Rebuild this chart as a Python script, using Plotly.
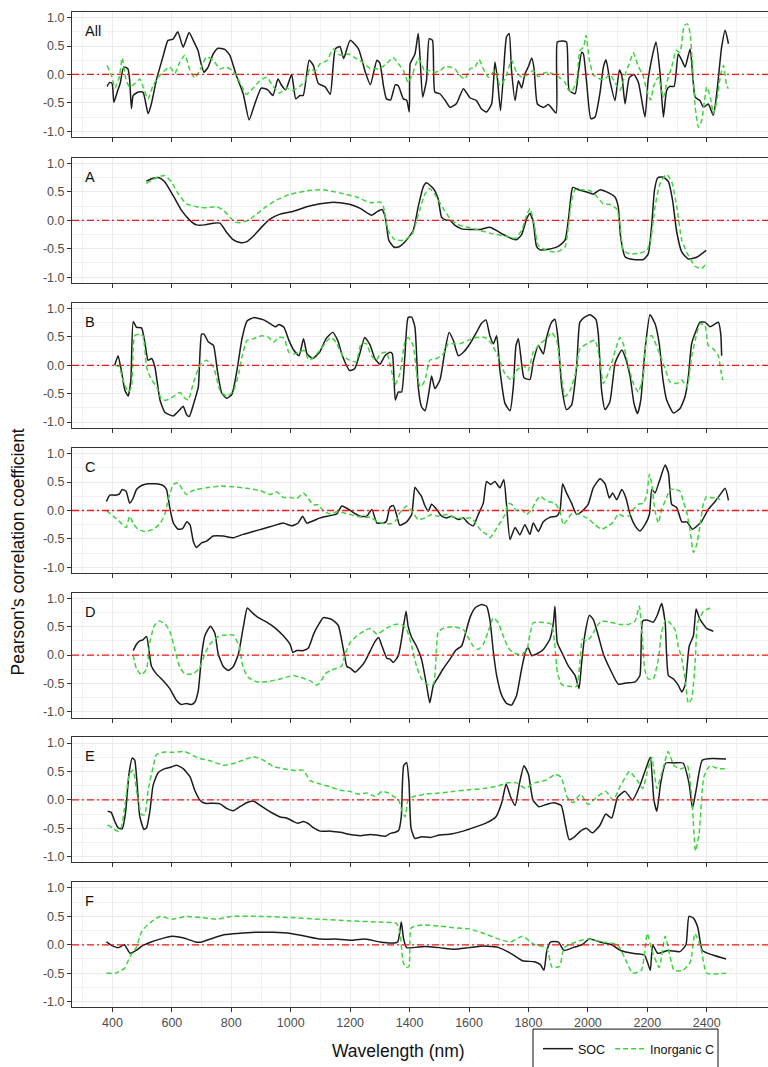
import plotly.graph_objects as go
from plotly.subplots import make_subplots

# ---------------------------------------------------------------
# Pearson's r between reflectance and carbon content, per wavelength
# Each series: (wavelength nm, r)
# ---------------------------------------------------------------
panel_names = ["All", "A", "B", "C", "D", "E", "F"]

soc_all = [(382,-0.21),(391,-0.14),(399,-0.16),(405,-0.49),(418,-0.28),(426,-0.16),(438,0.13),(452,0.1),(458,-0.1),(464,-0.6),(470,-0.37),(487,-0.31),(503,-0.31),(520,-0.69),(531,-0.52),(548,-0.1),(570,0.31),(587,0.6),(604,0.62),(620,0.75),(638,0.48),(658,0.74),(672,0.6),(688,0.42),(697,0.22),(708,0.04),(722,0.13),(739,0.36),(755,0.46),(778,0.44),(795,0.34),(817,-0.02),(840,-0.34),(860,-0.8),(879,-0.52),(901,-0.24),(923,-0.27),(940,-0.37),(957,-0.08),(969,-0.19),(983,-0.27),(1003,0.0),(1017,-0.43),(1031,-0.37),(1042,-0.37),(1062,0.25),(1076,0.16),(1093,-0.16),(1116,-0.22),(1133,-0.35),(1150,0.45),(1166,0.49),(1178,0.28),(1200,0.6),(1228,0.45),(1251,0.04),(1268,-0.18),(1290,0.25),(1300,0.2),(1312,-0.2),(1322,-0.43),(1336,-0.45),(1352,-0.18),(1362,-0.2),(1379,-0.43),(1390,-0.45),(1399,-0.66),(1402,0.19),(1418,0.36),(1429,0.72),(1435,0.31),(1444,-0.4),(1457,-0.1),(1466,0.63),(1477,0.6),(1485,-0.31),(1502,-0.34),(1519,-0.45),(1536,-0.58),(1558,-0.51),(1581,-0.25),(1603,-0.41),(1625,-0.46),(1642,-0.61),(1659,-0.66),(1676,-0.52),(1687,0.22),(1695,-0.05),(1706,-0.64),(1721,0.42),(1726,0.66),(1735,0.72),(1743,0.07),(1755,-0.46),(1766,-0.11),(1777,-0.24),(1788,0.01),(1799,0.13),(1811,0.29),(1819,0.1),(1830,-0.52),(1850,-0.58),(1867,-0.53),(1893,-0.68),(1897,0.57),(1912,0.59),(1928,0.57),(1937,-0.28),(1957,-0.34),(1968,0.04),(1979,0.39),(1985,0.36),(1996,-0.16),(2010,-0.78),(2024,-0.75),(2041,-0.31),(2052,0.13),(2061,0.26),(2074,-0.11),(2091,-0.46),(2106,0.08),(2114,-0.02),(2125,-0.52),(2139,-0.06),(2155,0.0),(2170,-0.14),(2192,-0.75),(2203,-0.08),(2215,0.28),(2229,0.57),(2243,0.01),(2254,-0.75),(2265,-0.28),(2276,-0.21),(2290,-0.21),(2304,0.36),(2316,0.25),(2327,0.13),(2344,0.45),(2361,-0.4),(2377,-0.46),(2389,-0.58),(2405,-0.52),(2422,-0.72),(2434,-0.31),(2450,0.48),(2462,0.78),(2473,0.54)]

ic_all = [(382,0.16),(397,-0.02),(408,-0.24),(423,-0.05),(433,0.29),(446,-0.1),(458,-0.22),(475,-0.16),(492,-0.08),(503,-0.22),(520,-0.43),(537,-0.19),(554,-0.05),(576,0.07),(593,0.13),(610,0.02),(627,0.22),(644,0.34),(661,0.07),(677,-0.06),(694,0.07),(717,0.31),(739,0.25),(762,0.1),(784,0.13),(806,0.06),(829,-0.14),(851,-0.35),(874,-0.24),(896,-0.11),(919,-0.05),(941,-0.21),(963,-0.33),(986,-0.24),(1008,-0.28),(1031,-0.21),(1048,-0.11),(1065,0.1),(1082,0.06),(1099,0.19),(1121,0.24),(1144,0.45),(1166,0.34),(1195,0.36),(1217,0.29),(1240,0.22),(1268,0.1),(1285,0.1),(1300,0.1),(1324,0.2),(1345,0.3),(1362,0.19),(1379,0.07),(1395,-0.14),(1412,0.04),(1429,0.28),(1440,0.19),(1452,0.04),(1463,0.07),(1485,0.04),(1502,0.06),(1519,0.14),(1536,0.13),(1553,0.1),(1569,-0.02),(1586,-0.08),(1603,0.1),(1620,0.13),(1634,0.26),(1648,0.1),(1665,-0.05),(1687,0.07),(1704,-0.19),(1721,-0.08),(1743,0.25),(1760,0.04),(1777,-0.05),(1799,0.0),(1816,0.07),(1833,-0.04),(1850,0.02),(1867,0.04),(1884,0.0),(1906,-0.06),(1923,-0.14),(1934,-0.27),(1945,-0.31),(1962,-0.11),(1973,0.42),(1985,0.48),(1994,0.69),(2005,0.25),(2018,0.0),(2041,-0.08),(2058,-0.08),(2074,0.0),(2091,-0.14),(2108,-0.28),(2125,0.0),(2139,0.19),(2153,0.38),(2170,0.13),(2184,0.01),(2198,-0.28),(2211,-0.45),(2222,-0.19),(2237,-0.05),(2254,-0.4),(2267,-0.11),(2282,0.13),(2297,0.42),(2310,0.39),(2324,0.86),(2335,0.89),(2344,0.72),(2355,-0.1),(2361,-0.58),(2372,-0.93),(2383,-0.81),(2400,-0.22),(2413,-0.43),(2422,-0.69),(2434,-0.46),(2445,-0.05),(2456,0.16),(2467,-0.2),(2473,-0.25)]

soc_a = [(514,0.69),(537,0.74),(557,0.75),(576,0.68),(604,0.44),(632,0.18),(661,0.0),(683,-0.08),(711,-0.08),(739,-0.05),(762,-0.05),(784,-0.21),(806,-0.34),(829,-0.39),(851,-0.38),(874,-0.28),(902,-0.12),(930,0.02),(964,0.11),(1009,0.16),(1054,0.24),(1099,0.29),(1144,0.32),(1166,0.31),(1200,0.28),(1234,0.21),(1273,0.09),(1290,0.15),(1307,0.19),(1318,0.06),(1330,-0.35),(1347,-0.47),(1362,-0.47),(1384,-0.38),(1412,-0.18),(1429,0.24),(1446,0.59),(1457,0.66),(1480,0.56),(1496,0.38),(1508,0.05),(1524,0.0),(1536,0.0),(1553,-0.09),(1575,-0.15),(1603,-0.16),(1637,-0.16),(1670,-0.12),(1693,-0.18),(1715,-0.25),(1743,-0.32),(1760,-0.34),(1777,-0.25),(1794,0.03),(1805,0.12),(1816,-0.03),(1827,-0.46),(1839,-0.52),(1867,-0.51),(1900,-0.46),(1923,-0.35),(1934,0.0),(1942,0.38),(1949,0.58),(1973,0.53),(1996,0.5),(2018,0.46),(2041,0.54),(2063,0.5),(2091,0.41),(2102,0.24),(2110,-0.29),(2125,-0.64),(2153,-0.69),(2187,-0.69),(2203,-0.59),(2215,-0.06),(2224,0.53),(2235,0.75),(2254,0.76),(2271,0.68),(2285,0.35),(2299,-0.21),(2316,-0.56),(2338,-0.68),(2366,-0.65),(2398,-0.53)]

ic_a = [(514,0.65),(548,0.75),(576,0.79),(598,0.68),(621,0.47),(649,0.29),(683,0.24),(717,0.22),(751,0.24),(773,0.18),(796,0.05),(812,-0.03),(829,-0.04),(857,0.0),(885,0.11),(919,0.25),(953,0.36),(998,0.46),(1054,0.52),(1110,0.54),(1166,0.48),(1222,0.41),(1267,0.31),(1302,0.32),(1311,0.26),(1328,-0.18),(1350,-0.34),(1379,-0.35),(1407,-0.26),(1429,0.09),(1452,0.47),(1468,0.56),(1491,0.41),(1513,0.21),(1541,0.0),(1569,-0.09),(1603,-0.13),(1637,-0.18),(1682,-0.24),(1726,-0.28),(1755,-0.32),(1777,-0.18),(1794,0.09),(1805,0.21),(1819,-0.06),(1833,-0.44),(1861,-0.53),(1895,-0.56),(1923,-0.47),(1934,-0.12),(1945,0.35),(1957,0.54),(1979,0.54),(2007,0.52),(2030,0.42),(2052,0.29),(2074,0.28),(2097,0.2),(2108,-0.06),(2119,-0.53),(2142,-0.59),(2175,-0.58),(2198,-0.53),(2211,-0.35),(2226,0.24),(2243,0.65),(2265,0.81),(2282,0.68),(2299,0.24),(2316,-0.35),(2338,-0.62),(2361,-0.81),(2383,-0.85),(2398,-0.76)]

soc_b = [(408,0.0),(419,0.17),(430,-0.09),(442,-0.44),(453,-0.54),(462,-0.26),(470,0.77),(481,0.67),(498,0.66),(509,0.41),(520,0.09),(532,0.12),(543,-0.03),(560,-0.61),(577,-0.83),(605,-0.89),(627,-0.78),(638,-0.72),(650,-0.87),(659,-0.9),(672,-0.7),(689,-0.38),(700,0.55),(708,0.55),(723,0.41),(740,0.35),(753,-0.09),(768,-0.49),(785,-0.58),(802,-0.51),(819,-0.09),(836,0.47),(853,0.78),(875,0.84),(909,0.8),(932,0.73),(949,0.68),(960,0.72),(977,0.67),(994,0.44),(1011,0.26),(1028,0.17),(1043,0.47),(1055,0.2),(1074,0.12),(1097,0.23),(1119,0.47),(1141,0.58),(1158,0.44),(1175,0.15),(1198,-0.09),(1215,-0.06),(1232,0.2),(1249,0.49),(1266,0.37),(1283,0.12),(1300,0.02),(1317,0.17),(1334,0.23),(1342,0.2),(1352,-0.61),(1362,-0.47),(1373,-0.47),(1384,0.15),(1395,0.84),(1407,0.85),(1418,0.67),(1429,-0.38),(1440,-0.73),(1452,-0.8),(1466,-0.44),(1474,-0.19),(1485,-0.41),(1502,-0.26),(1519,0.26),(1533,0.58),(1547,0.44),(1564,0.17),(1581,0.23),(1603,0.38),(1625,0.58),(1642,0.74),(1657,0.8),(1670,0.52),(1682,0.38),(1693,0.52),(1704,-0.09),(1721,-0.67),(1738,-0.8),(1749,-0.38),(1758,0.35),(1766,0.47),(1777,0.03),(1785,-0.22),(1805,-0.25),(1816,0.06),(1833,0.35),(1850,0.2),(1861,0.49),(1878,0.76),(1889,0.81),(1900,0.44),(1912,-0.38),(1928,-0.78),(1945,-0.7),(1962,-0.03),(1973,0.76),(1987,0.84),(2007,0.89),(2027,0.81),(2035,0.55),(2046,-0.44),(2058,-0.78),(2074,-0.64),(2091,0.03),(2102,0.17),(2114,0.27),(2125,0.15),(2142,-0.2),(2155,-0.67),(2167,-0.85),(2178,-0.61),(2192,0.26),(2209,0.89),(2226,0.73),(2240,0.38),(2252,-0.23),(2265,-0.61),(2288,-0.84),(2310,-0.76),(2327,-0.55),(2338,-0.2),(2349,0.38),(2364,0.61),(2377,0.76),(2394,0.76),(2411,0.68),(2428,0.73),(2439,0.76),(2447,0.55),(2450,0.17)]

ic_b = [(408,0.0),(423,-0.03),(436,-0.26),(453,-0.47),(464,-0.38),(475,0.52),(492,0.55),(503,0.52),(515,-0.03),(529,-0.23),(549,-0.38),(566,-0.61),(583,-0.61),(605,-0.55),(627,-0.48),(644,-0.58),(655,-0.61),(672,-0.32),(694,0.0),(717,0.09),(740,-0.03),(762,-0.44),(785,-0.55),(808,-0.44),(825,-0.15),(836,0.15),(853,0.44),(875,0.47),(903,0.52),(926,0.49),(943,0.41),(960,0.49),(977,0.48),(994,0.23),(1011,0.2),(1028,0.23),(1045,0.26),(1062,0.09),(1079,0.15),(1102,0.29),(1124,0.44),(1135,0.49),(1152,0.41),(1175,0.17),(1198,0.09),(1220,0.06),(1237,0.38),(1254,0.38),(1271,0.17),(1288,0.09),(1300,0.2),(1322,0.23),(1339,-0.09),(1350,-0.35),(1367,-0.15),(1384,0.41),(1395,0.49),(1412,0.35),(1426,-0.23),(1437,-0.38),(1452,-0.26),(1468,0.09),(1491,0.12),(1513,0.2),(1530,0.38),(1547,0.38),(1569,0.38),(1597,0.44),(1625,0.49),(1654,0.49),(1676,0.38),(1698,0.15),(1721,-0.15),(1743,-0.26),(1760,-0.09),(1783,0.0),(1799,-0.09),(1816,0.23),(1839,0.38),(1861,0.47),(1878,0.58),(1895,0.44),(1906,0.03),(1923,-0.55),(1940,-0.44),(1957,-0.17),(1973,0.29),(1996,0.38),(2024,0.44),(2041,0.06),(2052,-0.32),(2074,-0.06),(2097,0.35),(2108,0.49),(2119,0.38),(2136,0.0),(2153,-0.32),(2170,-0.47),(2187,-0.15),(2198,0.49),(2215,0.52),(2237,0.26),(2260,-0.06),(2276,-0.29),(2299,-0.32),(2316,-0.26),(2333,-0.38),(2349,0.15),(2361,0.44),(2377,0.73),(2394,0.7),(2405,0.35),(2422,0.29),(2439,0.17),(2447,-0.09),(2454,-0.26)]

soc_c = [(380,0.16),(391,0.27),(408,0.27),(423,0.29),(433,0.37),(446,0.34),(458,0.13),(470,0.22),(481,0.37),(498,0.44),(520,0.47),(543,0.47),(571,0.44),(582,0.37),(593,0.05),(605,-0.22),(621,-0.33),(636,-0.32),(650,-0.2),(661,-0.25),(672,-0.54),(683,-0.65),(700,-0.57),(717,-0.54),(739,-0.45),(773,-0.45),(806,-0.48),(840,-0.42),(874,-0.37),(907,-0.32),(941,-0.27),(975,-0.22),(1003,-0.27),(1025,-0.22),(1040,-0.1),(1054,-0.22),(1076,-0.18),(1099,-0.13),(1133,-0.09),(1155,-0.06),(1172,0.08),(1189,0.04),(1212,-0.04),(1234,-0.1),(1256,-0.1),(1273,0.02),(1290,-0.22),(1313,-0.22),(1322,-0.19),(1334,0.06),(1345,0.09),(1356,-0.07),(1367,-0.26),(1390,-0.2),(1407,-0.07),(1418,0.41),(1429,0.33),(1440,0.25),(1452,0.08),(1463,-0.01),(1474,0.11),(1491,0.02),(1508,-0.1),(1524,-0.13),(1541,-0.1),(1564,-0.16),(1581,-0.13),(1597,-0.22),(1614,-0.27),(1631,-0.07),(1648,0.13),(1659,0.51),(1673,0.46),(1687,0.51),(1704,0.4),(1717,0.54),(1726,0.11),(1738,-0.51),(1755,-0.3),(1771,-0.43),(1788,-0.25),(1805,-0.42),(1816,-0.22),(1833,-0.37),(1850,-0.2),(1872,-0.12),(1895,-0.1),(1906,0.0),(1915,0.47),(1928,0.31),(1945,0.13),(1962,-0.07),(1979,-0.02),(2001,0.11),(2018,0.4),(2041,0.56),(2058,0.47),(2072,0.22),(2083,0.31),(2097,0.19),(2114,0.37),(2128,0.22),(2142,-0.07),(2159,-0.27),(2175,-0.36),(2192,-0.25),(2207,-0.07),(2215,0.37),(2226,0.31),(2240,0.51),(2260,0.8),(2271,0.66),(2282,0.11),(2299,0.05),(2316,-0.2),(2333,-0.2),(2352,-0.33),(2372,-0.25),(2383,-0.19),(2405,0.02),(2428,0.16),(2445,0.28),(2462,0.39),(2473,0.18)]

ic_c = [(380,0.0),(403,-0.1),(425,-0.2),(446,-0.3),(458,-0.1),(470,-0.23),(487,-0.33),(509,-0.37),(537,-0.33),(560,-0.23),(576,-0.07),(588,0.19),(605,0.46),(621,0.49),(632,0.4),(649,0.28),(666,0.34),(683,0.37),(717,0.4),(762,0.43),(807,0.42),(852,0.39),(897,0.35),(931,0.28),(953,0.33),(975,0.23),(998,0.23),(1020,0.21),(1043,0.31),(1054,0.25),(1076,0.1),(1093,0.1),(1110,-0.01),(1133,-0.06),(1155,-0.02),(1178,-0.04),(1200,-0.07),(1223,-0.1),(1245,-0.12),(1268,-0.12),(1290,-0.19),(1313,-0.23),(1339,-0.23),(1356,-0.16),(1367,-0.04),(1390,0.08),(1407,-0.01),(1429,-0.16),(1452,-0.13),(1474,-0.07),(1496,-0.1),(1524,-0.07),(1558,-0.13),(1586,-0.14),(1609,-0.13),(1625,-0.25),(1642,-0.36),(1659,-0.42),(1670,-0.48),(1687,-0.36),(1704,-0.22),(1721,-0.07),(1732,0.12),(1743,0.11),(1760,0.0),(1777,0.02),(1794,-0.07),(1811,0.02),(1825,0.16),(1839,0.25),(1856,0.19),(1872,0.15),(1889,0.13),(1906,-0.01),(1917,-0.25),(1928,-0.18),(1945,-0.06),(1968,-0.06),(1985,-0.1),(2005,-0.16),(2024,-0.25),(2046,-0.33),(2069,-0.27),(2086,-0.2),(2102,-0.06),(2119,-0.1),(2136,-0.1),(2153,0.02),(2170,0.11),(2187,0.13),(2198,0.28),(2207,0.64),(2215,0.46),(2226,-0.01),(2237,-0.22),(2248,0.02),(2262,0.19),(2276,0.37),(2293,0.37),(2310,0.34),(2321,0.16),(2333,-0.04),(2344,-0.36),(2355,-0.74),(2366,-0.6),(2377,-0.27),(2389,0.13),(2400,0.25),(2417,0.22),(2434,0.23),(2445,0.19)]

soc_d = [(470,0.08),(481,0.19),(492,0.25),(503,0.27),(515,0.33),(523,0.08),(531,-0.19),(548,-0.33),(571,-0.45),(593,-0.59),(616,-0.8),(632,-0.87),(649,-0.85),(666,-0.87),(677,-0.83),(689,-0.62),(700,-0.01),(711,0.34),(730,0.51),(745,0.38),(756,0.02),(773,-0.2),(790,-0.27),(807,-0.2),(824,0.02),(841,0.51),(854,0.83),(872,0.74),(891,0.66),(919,0.58),(947,0.48),(975,0.34),(998,0.19),(1007,0.05),(1020,0.08),(1043,0.08),(1060,0.13),(1077,0.37),(1094,0.54),(1110,0.66),(1133,0.64),(1150,0.58),(1161,0.51),(1178,0.08),(1189,-0.2),(1200,-0.23),(1217,-0.3),(1234,-0.22),(1251,-0.1),(1268,0.08),(1285,0.25),(1296,0.31),(1307,0.16),(1324,-0.06),(1334,-0.07),(1345,-0.13),(1362,-0.01),(1373,0.28),(1388,0.77),(1395,0.51),(1407,0.31),(1423,0.16),(1440,-0.07),(1457,-0.53),(1468,-0.84),(1480,-0.53),(1496,-0.39),(1513,-0.24),(1536,-0.07),(1556,0.09),(1575,0.16),(1586,0.34),(1603,0.66),(1620,0.83),(1642,0.89),(1659,0.86),(1670,0.63),(1682,0.05),(1693,-0.36),(1710,-0.71),(1726,-0.85),(1743,-0.88),(1760,-0.71),(1777,-0.24),(1791,0.08),(1799,0.13),(1811,-0.01),(1827,0.02),(1850,0.1),(1872,0.28),(1884,0.57),(1889,0.86),(1897,0.22),(1912,0.05),(1934,-0.19),(1957,-0.36),(1970,-0.59),(1979,-0.13),(1990,0.37),(2005,0.7),(2018,0.63),(2035,0.34),(2052,0.02),(2074,-0.24),(2102,-0.51),(2130,-0.49),(2159,-0.47),(2175,-0.36),(2184,0.6),(2198,0.62),(2220,0.58),(2234,0.71),(2248,0.91),(2260,0.57),(2271,-0.36),(2288,-0.42),(2304,-0.53),(2316,-0.65),(2327,-0.53),(2341,0.16),(2355,0.34),(2364,0.81),(2377,0.63),(2400,0.47),(2422,0.42)]

ic_d = [(470,0.0),(481,-0.24),(498,-0.35),(515,-0.24),(526,0.22),(540,0.51),(557,0.6),(577,0.55),(593,0.42),(610,0.1),(627,-0.22),(644,-0.33),(672,-0.33),(694,-0.22),(711,0.02),(728,0.19),(751,0.31),(773,0.35),(807,0.35),(826,0.16),(840,-0.22),(857,-0.39),(885,-0.47),(919,-0.47),(964,-0.42),(998,-0.37),(1009,-0.36),(1031,-0.39),(1065,-0.45),(1088,-0.53),(1099,-0.48),(1116,-0.33),(1133,-0.27),(1155,-0.23),(1172,-0.19),(1183,0.02),(1200,0.22),(1223,0.34),(1245,0.42),(1268,0.47),(1290,0.37),(1322,0.47),(1350,0.54),(1373,0.54),(1390,0.45),(1407,0.16),(1423,-0.19),(1440,-0.42),(1457,-0.51),(1480,-0.51),(1496,0.4),(1513,0.47),(1547,0.5),(1581,0.45),(1597,0.31),(1614,0.16),(1631,0.1),(1648,0.19),(1665,0.42),(1682,0.66),(1698,0.57),(1715,0.34),(1732,0.13),(1747,0.05),(1760,0.02),(1777,0.02),(1794,0.08),(1805,0.37),(1816,0.57),(1839,0.58),(1861,0.57),(1878,0.54),(1889,0.16),(1897,-0.3),(1912,-0.52),(1940,-0.55),(1962,-0.55),(1973,-0.13),(1982,0.28),(1996,0.25),(2013,0.34),(2030,0.51),(2046,0.6),(2074,0.58),(2108,0.54),(2136,0.54),(2159,0.6),(2173,0.86),(2181,0.45),(2192,-0.27),(2203,-0.42),(2220,-0.42),(2237,-0.07),(2248,0.4),(2262,0.63),(2276,0.57),(2293,0.45),(2304,0.16),(2316,-0.07),(2327,-0.42),(2338,-0.85),(2349,-0.77),(2361,-0.13),(2369,0.57),(2389,0.77),(2411,0.83)]

soc_e = [(384,-0.2),(396,-0.22),(408,-0.38),(419,-0.49),(433,-0.51),(444,-0.23),(456,0.47),(467,0.74),(475,0.7),(483,0.29),(492,-0.29),(506,-0.52),(515,-0.49),(526,-0.2),(537,0.26),(554,0.48),(577,0.55),(599,0.58),(616,0.61),(638,0.55),(661,0.41),(677,0.17),(694,0.0),(711,-0.06),(739,-0.06),(762,-0.07),(784,-0.15),(807,-0.19),(829,-0.12),(851,-0.05),(874,-0.02),(896,-0.09),(919,-0.17),(941,-0.24),(964,-0.3),(986,-0.32),(1009,-0.38),(1024,-0.41),(1043,-0.38),(1060,-0.42),(1076,-0.49),(1099,-0.55),(1133,-0.55),(1167,-0.57),(1200,-0.61),(1234,-0.63),(1268,-0.61),(1290,-0.62),(1318,-0.64),(1335,-0.59),(1352,-0.57),(1363,-0.54),(1372,-0.3),(1380,0.6),(1390,0.66),(1398,0.3),(1405,-0.5),(1418,-0.68),(1440,-0.65),(1470,-0.66),(1500,-0.62),(1540,-0.6),(1580,-0.55),(1620,-0.48),(1660,-0.4),(1690,-0.3),(1710,-0.05),(1725,0.28),(1740,0.05),(1755,-0.1),(1770,0.3),(1785,0.6),(1800,0.45),(1815,0.0),(1835,-0.12),(1860,-0.08),(1885,-0.05),(1910,-0.1),(1925,-0.45),(1937,-0.7),(1955,-0.65),(1975,-0.55),(1995,-0.5),(2015,-0.58),(2040,-0.45),(2060,-0.25),(2080,-0.32),(2100,0.05),(2125,0.15),(2150,0.0),(2175,0.25),(2195,0.55),(2210,0.75),(2222,0.0),(2232,-0.2),(2245,0.3),(2262,0.65),(2290,0.65),(2320,0.65),(2340,0.3),(2352,-0.15),(2365,0.2),(2385,0.7),(2420,0.73),(2465,0.72)]

ic_e = [(384,-0.44),(402,-0.5),(419,-0.55),(430,-0.48),(442,-0.1),(458,0.47),(470,0.52),(481,0.17),(498,-0.26),(509,-0.26),(520,0.17),(537,0.58),(548,0.8),(571,0.84),(605,0.84),(644,0.85),(672,0.78),(694,0.73),(728,0.69),(773,0.61),(807,0.64),(840,0.7),(874,0.76),(908,0.7),(941,0.59),(975,0.55),(1009,0.52),(1043,0.52),(1065,0.34),(1099,0.28),(1133,0.23),(1167,0.17),(1200,0.15),(1228,0.1),(1256,0.12),(1285,0.06),(1307,0.15),(1330,0.12),(1346,0.06),(1363,0.0),(1375,-0.2),(1385,-0.3),(1395,0.0),(1410,0.05),(1450,0.1),(1500,0.12),(1550,0.15),(1600,0.18),(1650,0.2),(1700,0.25),(1730,0.3),(1760,0.3),(1790,0.2),(1820,0.3),(1860,0.35),(1890,0.45),(1910,0.4),(1930,0.05),(1950,-0.05),(1975,0.1),(2000,-0.08),(2030,0.05),(2060,0.15),(2085,0.0),(2110,0.25),(2140,0.5),(2165,0.35),(2185,0.2),(2200,0.5),(2215,0.75),(2232,0.2),(2250,0.5),(2270,0.85),(2290,0.6),(2315,0.55),(2335,0.6),(2350,0.0),(2362,-0.9),(2374,-0.6),(2390,0.4),(2410,0.6),(2440,0.55),(2465,0.55)]

soc_f = [(380,0.05),(400,-0.02),(420,-0.05),(440,0.0),(460,-0.15),(480,-0.1),(500,-0.02),(530,0.05),(560,0.1),(600,0.15),(640,0.12),(680,0.05),(700,0.05),(740,0.12),(780,0.18),(820,0.2),(880,0.22),(940,0.22),(1000,0.2),(1050,0.15),(1100,0.1),(1150,0.1),(1200,0.08),(1250,0.1),(1300,0.05),(1340,0.03),(1360,0.05),(1372,0.4),(1380,0.1),(1390,-0.05),(1450,-0.03),(1500,-0.05),(1550,-0.08),(1600,-0.05),(1650,-0.02),(1700,-0.05),(1740,-0.15),(1780,-0.28),(1820,-0.3),(1840,-0.35),(1852,-0.45),(1862,-0.1),(1875,0.05),(1900,0.05),(1920,-0.1),(1950,-0.05),(1980,0.0),(2005,0.1),(2040,0.05),(2080,0.0),(2110,-0.1),(2150,-0.15),(2190,-0.18),(2200,-0.3),(2210,-0.45),(2218,0.0),(2235,-0.15),(2270,-0.1),(2310,-0.12),(2330,0.0),(2340,0.5),(2355,0.47),(2370,0.3),(2385,-0.1),(2420,-0.18),(2465,-0.25)]

ic_f = [(380,-0.5),(410,-0.5),(440,-0.42),(460,-0.2),(480,-0.05),(500,0.25),(530,0.4),(560,0.5),(600,0.45),(650,0.5),(700,0.48),(750,0.45),(800,0.5),(900,0.5),(1000,0.48),(1100,0.45),(1200,0.42),(1300,0.4),(1355,0.38),(1368,0.2),(1378,-0.3),(1388,-0.4),(1398,-0.38),(1406,0.3),(1450,0.35),(1500,0.33),(1550,0.3),(1600,0.28),(1650,0.2),(1700,0.1),(1740,0.05),(1780,0.15),(1820,0.0),(1860,-0.05),(1880,-0.4),(1905,-0.38),(1920,-0.05),(1960,0.05),(2000,0.1),(2050,0.05),(2100,0.0),(2130,-0.3),(2150,-0.5),(2180,-0.45),(2200,0.2),(2215,-0.1),(2240,-0.4),(2260,0.15),(2290,-0.45),(2320,-0.45),(2345,-0.3),(2360,0.2),(2380,-0.05),(2400,-0.5),(2465,-0.5)]

soc_series = [soc_all, soc_a, soc_b, soc_c, soc_d, soc_e, soc_f]
ic_series = [ic_all, ic_a, ic_b, ic_c, ic_d, ic_e, ic_f]

x_ticks = [400, 600, 800, 1000, 1200, 1400, 1600, 1800, 2000, 2200, 2400]
y_ticks = [-1.0, -0.5, 0.0, 0.5, 1.0]
y_tick_text = ["-1.0", "-0.5", "0.0", "0.5", "1.0"]

# ---------------------------------------------------------------
# Layout geometry (pixels)
# ---------------------------------------------------------------
W, H = 768, 1067
ML, MR = 72, 0
PLOT_W = W - ML - MR
panel_tops = [11, 157.3, 302.7, 448.3, 593.3, 738.5, 883.8]
panel_h = 125.3

FONT = "Liberation Sans, Arial, sans-serif"
SOC_COLOR = "#1c1c1c"
IC_COLOR = "#3fd43f"
ZERO_COLOR = "#f01a1a"
GRID = "#ebebeb"
FRAME = "#333333"
TICKFONT = dict(family=FONT, size=12.5, color="#4d4d4d")


def px_x(px):
    return (px - ML) / PLOT_W


def px_y(px):
    return 1 - px / H


fig = make_subplots(rows=7, cols=1)

for i, name in enumerate(panel_names):
    row = i + 1
    sw, sr = zip(*soc_series[i])
    iw, ir = zip(*ic_series[i])
    fig.add_trace(go.Scatter(
        x=list(sw), y=list(sr), mode="lines", name="SOC",
        legendgroup="soc", showlegend=(i == 0),
        line=dict(color=SOC_COLOR, width=1.5, shape="spline", smoothing=0.5),
    ), row=row, col=1)
    fig.add_trace(go.Scatter(
        x=list(iw), y=list(ir), mode="lines", name="Inorganic C",
        legendgroup="ic", showlegend=(i == 0),
        line=dict(color=IC_COLOR, width=1.5, dash="5px,3px", shape="spline", smoothing=0.5),
    ), row=row, col=1)

    sfx = "" if row == 1 else str(row)
    top = panel_tops[i]
    dom = [px_y(top + panel_h), px_y(top)]
    fig.update_layout({
        f"xaxis{sfx}": dict(
            domain=[0, 1], range=[264, 2606], tickmode="array", tickvals=x_ticks,
            showticklabels=(row == 7), tickfont=TICKFONT,
            ticks="outside", ticklen=4, tickwidth=1, tickcolor=FRAME,
            showline=True, linecolor=FRAME, linewidth=1, mirror=True,
            showgrid=True, gridcolor=GRID, gridwidth=1, zeroline=False,
            minor=dict(tick0=300, dtick=200, showgrid=True, gridcolor="#f1f1f1", gridwidth=0.6, ticks=""),
        ),
        f"yaxis{sfx}": dict(
            domain=dom, range=[-1.1, 1.1], tickmode="array", tickvals=y_ticks, ticktext=y_tick_text,
            tickfont=TICKFONT, ticks="outside", ticklen=4, tickwidth=1, tickcolor=FRAME,
            showline=True, linecolor=FRAME, linewidth=1, mirror=False,
            showgrid=True, gridcolor=GRID, gridwidth=1, zeroline=False,
            minor=dict(tick0=-0.75, dtick=0.5, showgrid=True, gridcolor="#f1f1f1", gridwidth=0.6, ticks=""),
        ),
    })

    # zero reference line
    fig.add_shape(type="line", xref=f"x{sfx} domain", yref=f"y{sfx}",
                  x0=0, x1=1, y0=0, y1=0,
                  line=dict(color=ZERO_COLOR, width=1.3, dash="7px,3px,2px,3px"), layer="above")

    # panel label
    fig.add_annotation(text=name, xref=f"x{sfx} domain", yref=f"y{sfx} domain",
                       x=11 / PLOT_W, y=1 - 19 / panel_h, xanchor="left", yanchor="middle",
                       showarrow=False, font=dict(family=FONT, size=14.5, color="#111111"))

# axis titles
fig.add_annotation(text="Pearson's correlation coefficient", xref="paper", yref="paper",
                   x=px_x(18), y=px_y(553), xanchor="center", yanchor="middle",
                   textangle=-90, showarrow=False, font=dict(family=FONT, size=17.5, color="#111111"))
fig.add_annotation(text="Wavelength (nm)", xref="paper", yref="paper",
                   x=px_x(398), y=px_y(1053), xanchor="center", yanchor="middle",
                   showarrow=False, font=dict(family=FONT, size=17.5, color="#111111"))

# legend frame (runs past the bottom edge)
fig.add_shape(type="rect", xref="paper", yref="paper",
              x0=px_x(533), x1=px_x(718), y0=px_y(1031), y1=px_y(1080),
              line=dict(color="#111111", width=1), fillcolor="white", layer="below")

fig.update_layout(
    width=W, height=H,
    margin=dict(l=ML, r=MR, t=0, b=0),
    paper_bgcolor="white", plot_bgcolor="white",
    font=dict(family=FONT),
    showlegend=True,
    legend=dict(
        orientation="h", x=px_x(538), xanchor="left",
        y=px_y(1051), yanchor="middle",
        borderwidth=0, bgcolor="rgba(0,0,0,0)",
        font=dict(family=FONT, size=12.5, color="#111111"),
        itemwidth=30, tracegroupgap=0,
    ),
)

fig.write_html("out.html")
